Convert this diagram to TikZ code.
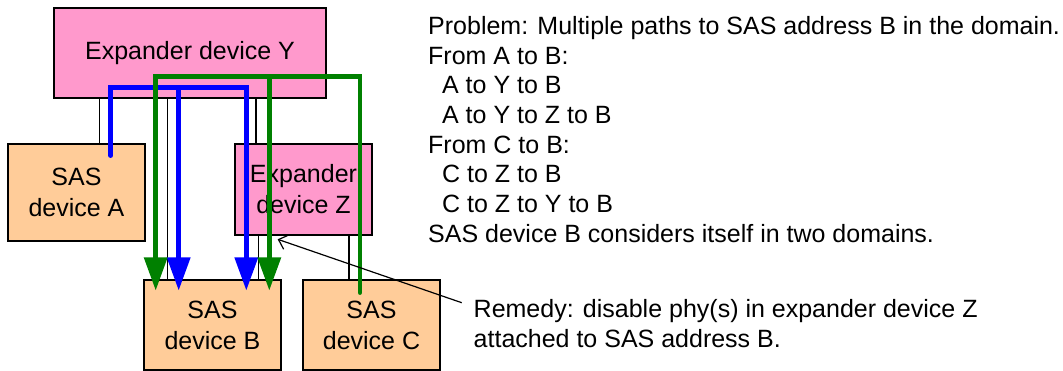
\documentclass[tikz,border=0pt]{standalone}
\usepackage{fontspec}
\setmainfont{Liberation Sans}
\usetikzlibrary{arrows.meta}
\definecolor{pinkfill}{HTML}{FF99CC}
\definecolor{orangefill}{HTML}{FFCC99}
\definecolor{pathblue}{RGB}{0,0,255}
\definecolor{pathgreen}{RGB}{0,128,0}
\begin{document}
\begin{tikzpicture}[x=1pt,y=-1pt,
  dev/.style={draw=black,line width=1.2pt,inner sep=0pt,align=center,
    font=\fontsize{25}{31}\selectfont},
  expbox/.style={dev,fill=pinkfill},
  sasbox/.style={dev,fill=orangefill},
  link/.style={draw=black,line width=1.2pt},
  bluepath/.style={draw=pathblue,line width=4.5pt,line cap=round,line join=miter},
  greenpath/.style={draw=pathgreen,line width=4.5pt,line cap=round,line join=miter},
  tip/.style={-{Triangle[length=33pt,width=22.6pt]}},
  txt/.style={anchor=base west,inner sep=0pt,font=\fontsize{25}{30}\selectfont}]
\useasboundingbox (0,0) rectangle (1063,371);
% devices
\node[expbox,minimum width=272pt,minimum height=90pt] (Y) at (190,53) {Expander device Y};
\node[sasbox,minimum width=137pt,minimum height=97pt] (A) at (76.5,192.5) {SAS\\device A};
\node[expbox,minimum width=137pt,minimum height=91pt] (Z) at (303.5,189.5) {Expander\\device Z};
\node[sasbox,minimum width=137pt,minimum height=90pt] (B) at (212.5,325) {SAS\\device B};
\node[sasbox,minimum width=137pt,minimum height=90pt] (C) at (371.5,325) {SAS\\device C};
% link positions
\coordinate (xya) at (99.3,0);
\coordinate (xyb) at (167.3,0);
\coordinate (xyz) at (256,0);
\coordinate (xzb) at (258.3,0);
\coordinate (xzc) at (349,0);
\draw[link] (Y.south -| xya) -- (A.north -| xya);
\draw[link] (Y.south -| xyb) -- (B.north -| xyb);
\draw[link] (Y.south -| xyz) -- (Z.north -| xyz);
\draw[link] (Z.south -| xzb) -- (B.north -| xzb);
\draw[link] (Z.south -| xzc) -- (C.north -| xzc);
% blue paths (A to B)
\coordinate (bstart) at (110.7,155.7);
\coordinate (bturn) at (178.7,87.7);
\coordinate (bend1) at (178.7,290.5);
\coordinate (bend2) at (246.3,290.5);
\draw[bluepath,tip] (bstart) |- (bturn) -| (bend2);
\draw[bluepath,tip] (bturn) -- (bend1);
% green paths (C to B)
\coordinate (gstart) at (360,292.7);
\coordinate (gturn) at (269.3,76.7);
\coordinate (gend1) at (155.7,290.5);
\coordinate (gend2) at (269.3,290.5);
\draw[greenpath,tip] (gstart) |- (gturn) -| (gend1);
\draw[greenpath,tip] (gturn) -- (gend2);
% text
\node[txt] (t1) at (428,34.5) {Problem: Multiple paths to SAS address B in the domain.};
\node[txt] (t2) at (428,64.2) {From A to B:};
\node[txt] (t3) at (441.9,93.9) {A to Y to B};
\node[txt] (t4) at (441.9,123.6) {A to Y to Z to B};
\node[txt] (t5) at (428,153.3) {From C to B:};
\node[txt] (t6) at (441.9,183) {C to Z to B};
\node[txt] (t7) at (441.9,212.7) {C to Z to Y to B};
\node[txt] (t8) at (428,242.4) {SAS device B considers itself in two domains.};
\node[txt] (r1) at (473.5,317.5) {Remedy: disable phy(s) in expander device Z};
\node[txt] (r2) at (473.5,347.2) {attached to SAS address B.};
% remedy arrow
\coordinate (rstart) at (461.7,302.7);
\coordinate (rend) at (277.7,239.3);
\draw[line width=1.2pt,-{Straight Barb[length=8pt,width=15pt]}] (rstart) -- (rend);
\end{tikzpicture}
\end{document}
